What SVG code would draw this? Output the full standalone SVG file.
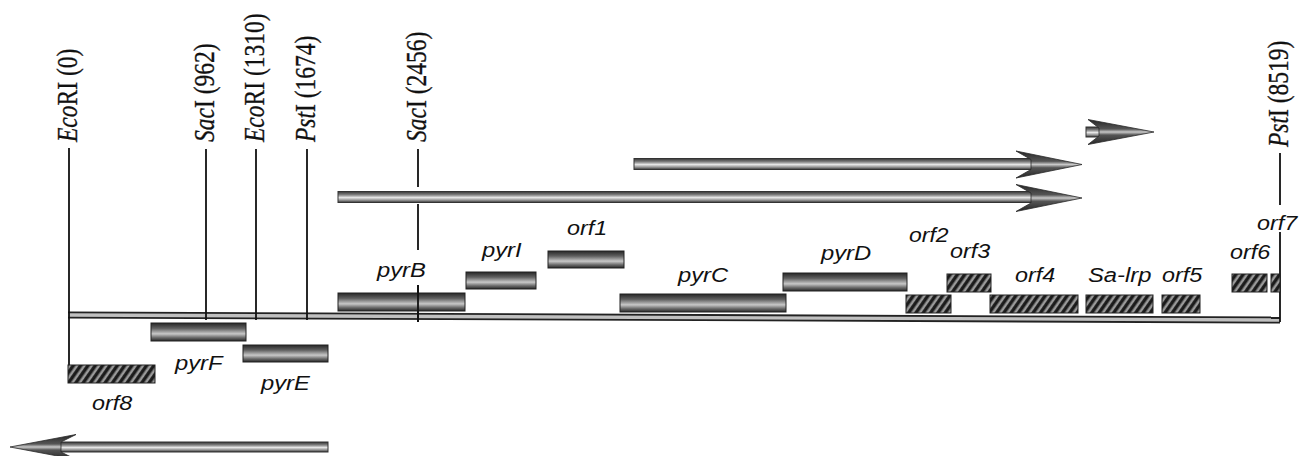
<svg xmlns="http://www.w3.org/2000/svg" width="1300" height="456" viewBox="0 0 1300 456">
  <style>
    .site { font-family: "Liberation Serif", "Times New Roman", serif; font-size: 23.5px; fill: #111; stroke: #111; stroke-width: 0.25; }
    .site .it { font-style: italic; }
    .gene { font-family: "Liberation Sans", Arial, sans-serif; font-style: italic; font-size: 20.5px; fill: #111; }
    .tick { stroke: #111; stroke-width: 1.8; fill: none; }
    .bar { fill: url(#tube); stroke: #222; stroke-width: 1; }
    .hatch { fill: url(#stripes); stroke: #222; stroke-width: 1; }
    .shaft { fill: url(#shaftGrad); stroke: #333; stroke-width: 1; }
    .head { fill: url(#headGrad); stroke: #2a2a2a; stroke-width: 0.8; }
  </style>
  <defs>
    <linearGradient id="tube" x1="0" y1="0" x2="0" y2="1">
      <stop offset="0" stop-color="#262626"/>
      <stop offset="0.3" stop-color="#606060"/>
      <stop offset="0.6" stop-color="#c8c8c8"/>
      <stop offset="0.8" stop-color="#707070"/>
      <stop offset="1" stop-color="#262626"/>
    </linearGradient>
    <linearGradient id="shaftGrad" x1="0" y1="0" x2="0" y2="1">
      <stop offset="0" stop-color="#333"/>
      <stop offset="0.3" stop-color="#808080"/>
      <stop offset="0.55" stop-color="#e6e6e6"/>
      <stop offset="0.8" stop-color="#909090"/>
      <stop offset="1" stop-color="#333"/>
    </linearGradient>
    <linearGradient id="headGrad" x1="0" y1="0" x2="0" y2="1">
      <stop offset="0" stop-color="#262626"/>
      <stop offset="0.38" stop-color="#555"/>
      <stop offset="0.5" stop-color="#c8c8c8"/>
      <stop offset="0.62" stop-color="#555"/>
      <stop offset="1" stop-color="#262626"/>
    </linearGradient>
    <pattern id="stripes" width="6" height="6" patternUnits="userSpaceOnUse" patternTransform="rotate(35)">
      <rect width="6" height="6" fill="#1a1a1a"/>
      <rect x="1.5" width="2.6" height="6" fill="#9a9a9a"/>
    </pattern>
  </defs>

  <!-- chromosome segment -->
  <g id="backbone">
    <path d="M68,315 L1280,320" stroke="#222" stroke-width="7" fill="none"/>
    <path d="M68,315 L1280,320" stroke="#c0c0c0" stroke-width="3.4" fill="none"/>
  </g>

  <!-- restriction sites -->
  <g id="site-EcoRI-0">
    <path class="tick" d="M69,148 V365"/>
    <text class="site" transform="translate(77,142) scale(1.25,1) rotate(-90)"><tspan class="it">Eco</tspan>RI (0)</text>
  </g>
  <g id="site-SacI-962">
    <path class="tick" d="M206,149 V320"/>
    <text class="site" transform="translate(214,142) scale(1.25,1) rotate(-90)"><tspan class="it">Sac</tspan>I (962)</text>
  </g>
  <g id="site-EcoRI-1310">
    <path class="tick" d="M256,149 V320"/>
    <text class="site" transform="translate(264,142) scale(1.25,1) rotate(-90)"><tspan class="it">Eco</tspan>RI (1310)</text>
  </g>
  <g id="site-PstI-1674">
    <path class="tick" d="M307,149 V320"/>
    <text class="site" transform="translate(315,142) scale(1.25,1) rotate(-90)"><tspan class="it">Pst</tspan>I (1674)</text>
  </g>
  <g id="site-SacI-2456">
    <path class="tick" d="M418,149 V187 M418,204 V250 M418,285 V322"/>
    <text class="site" transform="translate(426,142) scale(1.25,1) rotate(-90)"><tspan class="it">Sac</tspan>I (2456)</text>
  </g>
  <g id="site-PstI-8519">
    <path class="tick" d="M1280,153 V205 M1280,232 V322"/>
    <text class="site" transform="translate(1288,147) scale(1.25,1) rotate(-90)"><tspan class="it">Pst</tspan>I (8519)</text>
  </g>

  <!-- transcripts -->
  <g id="transcripts">
    <rect class="shaft" x="1086" y="127" width="16" height="10"/>
    <polygon class="head" points="1088,119.5 1154,132 1088,144.5 1099,136 1099,128"/>

    <rect class="shaft" x="634" y="158.5" width="402" height="11"/>
    <polygon class="head" points="1016,151 1082,164.5 1016,178 1031,169.5 1031,159.5"/>

    <rect class="shaft" x="338" y="191.5" width="698" height="11"/>
    <polygon class="head" points="1016,184.5 1082,198 1016,211.5 1031,203 1031,193"/>

    <rect class="shaft" x="58" y="442" width="270" height="10"/>
    <polygon class="head" points="76,434.5 10,447 76,459.5 61,452 61,442"/>
  </g>

  <!-- genes -->
  <g id="gene-pyrB">
    <rect class="bar" x="338" y="293" width="127" height="18"/>
    <path class="tick" d="M418,285 V322"/>
    <text class="gene" transform="translate(377,277) scale(1.16,1)">pyrB</text>
  </g>
  <g id="gene-pyrI">
    <rect class="bar" x="466" y="272" width="70" height="17"/>
    <text class="gene" transform="translate(482,257) scale(1.16,1)">pyrI</text>
  </g>
  <g id="gene-orf1">
    <rect class="bar" x="548" y="251" width="76" height="17"/>
    <text class="gene" transform="translate(567,235) scale(1.14,1)">orf1</text>
  </g>
  <g id="gene-pyrC">
    <rect class="bar" x="620" y="294" width="166" height="18"/>
    <text class="gene" transform="translate(678,282) scale(1.16,1)">pyrC</text>
  </g>
  <g id="gene-pyrD">
    <rect class="bar" x="783" y="273" width="124" height="18"/>
    <text class="gene" transform="translate(821,260) scale(1.16,1)">pyrD</text>
  </g>
  <g id="gene-orf2">
    <rect class="hatch" x="906" y="295" width="45" height="18"/>
    <text class="gene" transform="translate(909,242) scale(1.12,1)">orf2</text>
  </g>
  <g id="gene-orf3">
    <rect class="hatch" x="947" y="274" width="44" height="18"/>
    <text class="gene" transform="translate(950,258) scale(1.14,1)">orf3</text>
  </g>
  <g id="gene-orf4">
    <rect class="hatch" x="990" y="295" width="88" height="18"/>
    <text class="gene" transform="translate(1015,282) scale(1.14,1)">orf4</text>
  </g>
  <g id="gene-Sa-lrp">
    <rect class="hatch" x="1086" y="295" width="67" height="18"/>
    <text class="gene" transform="translate(1088,282) scale(1.16,1)">Sa-lrp</text>
  </g>
  <g id="gene-orf5">
    <rect class="hatch" x="1162" y="295" width="38" height="18"/>
    <text class="gene" transform="translate(1162,282) scale(1.14,1)">orf5</text>
  </g>
  <g id="gene-orf6">
    <rect class="hatch" x="1232" y="274" width="35" height="18"/>
    <text class="gene" transform="translate(1230,259) scale(1.14,1)">orf6</text>
  </g>
  <g id="gene-orf7">
    <rect class="hatch" x="1271" y="274" width="9" height="18"/>
    <text class="gene" transform="translate(1257,230) scale(1.14,1)">orf7</text>
  </g>
  <g id="gene-pyrF">
    <rect class="bar" x="151" y="323" width="95" height="18"/>
    <text class="gene" transform="translate(175,370) scale(1.16,1)">pyrF</text>
  </g>
  <g id="gene-pyrE">
    <rect class="bar" x="243" y="345" width="85" height="17"/>
    <text class="gene" transform="translate(261,390) scale(1.16,1)">pyrE</text>
  </g>
  <g id="gene-orf8">
    <rect class="hatch" x="68" y="365" width="87" height="18"/>
    <text class="gene" transform="translate(92,410) scale(1.14,1)">orf8</text>
  </g>
</svg>
